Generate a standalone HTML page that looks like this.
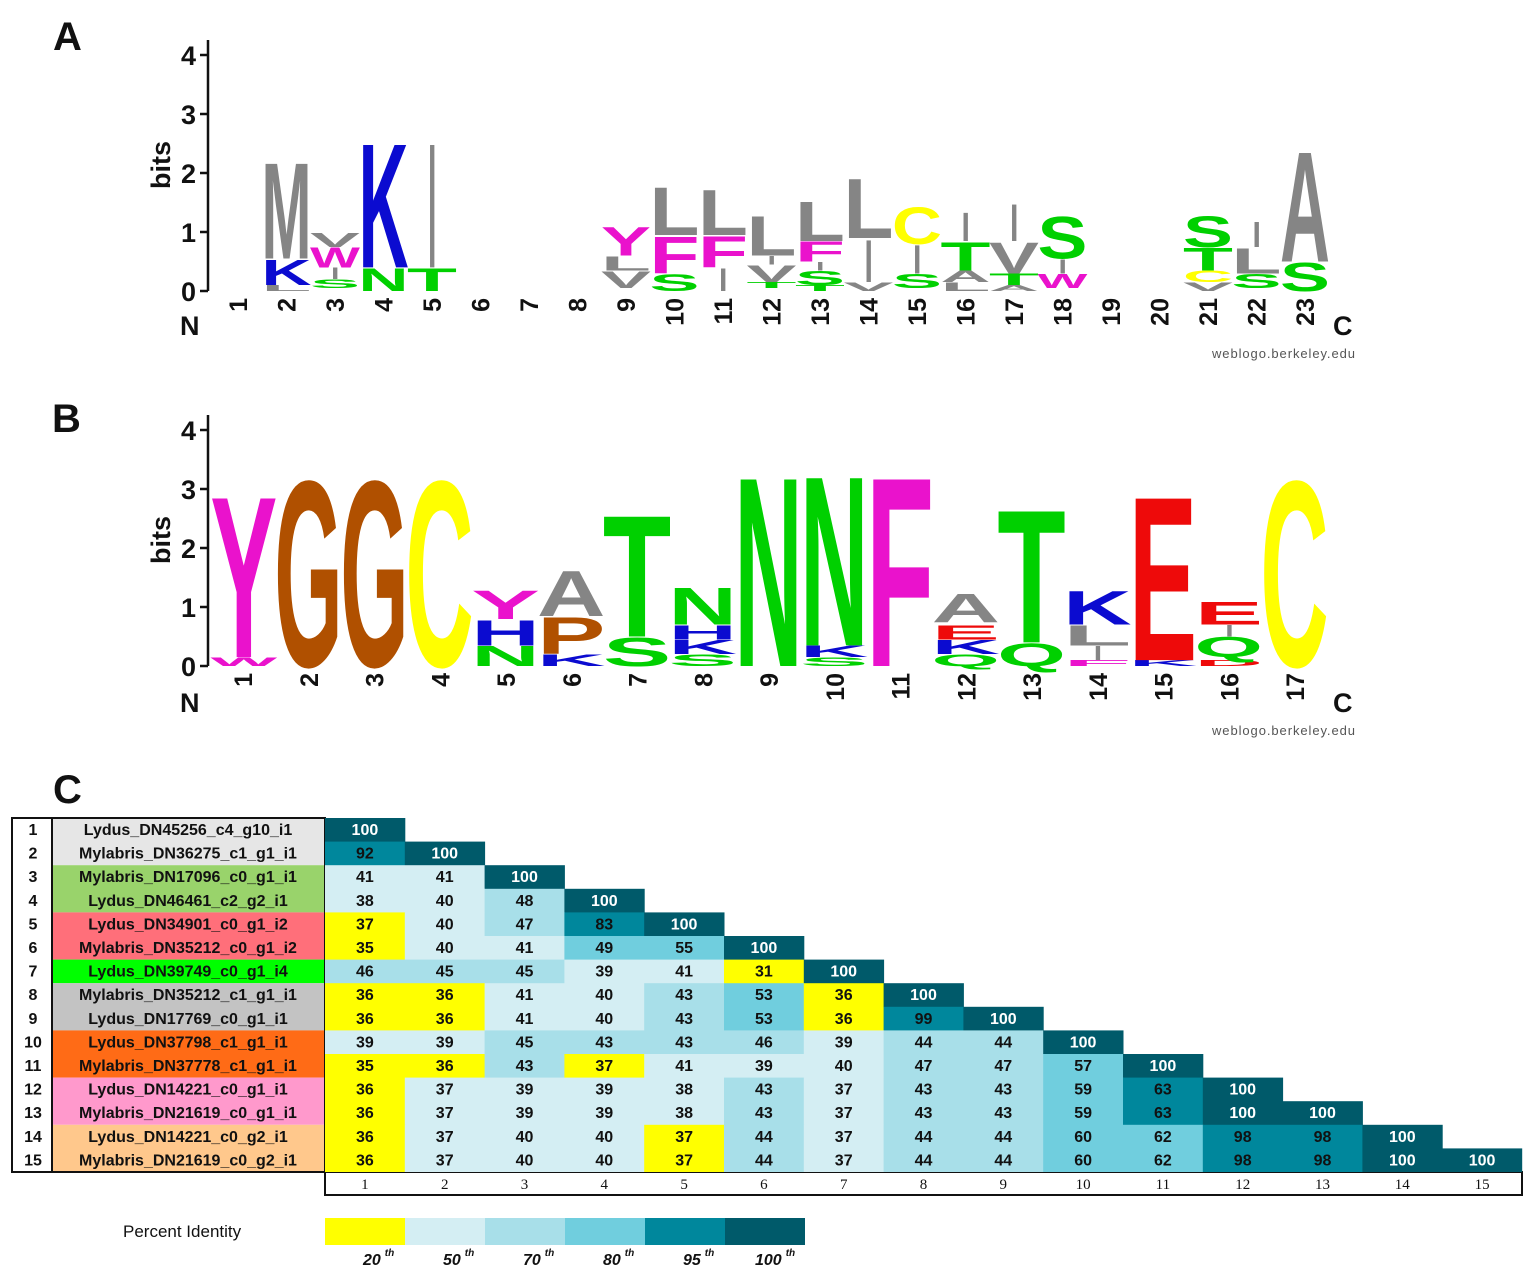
<!DOCTYPE html>
<html><head><meta charset="utf-8"><style>
body{margin:0;background:#fff}
svg{display:block}
.l{font-family:"Liberation Sans",sans-serif;font-weight:bold;font-size:100px}
.g{fill:#858585}.b{fill:#0b0bd0}.gr{fill:#00d000}.m{fill:#ea12cc}.y{fill:#ffff00}.br{fill:#b05000}.r{fill:#ee0a0a}
.ax{font-family:"Liberation Sans",sans-serif;font-weight:bold;font-size:27px;fill:#111}
.tk{font-family:"Liberation Sans",sans-serif;font-weight:bold;font-size:25px;fill:#111}
.wb{font-family:"Liberation Sans",sans-serif;font-size:13px;fill:#555}
.pn{font-family:"Liberation Sans",sans-serif;font-weight:bold;font-size:40px;fill:#111}
.cY{fill:#ffff00}.cL{fill:#d4eef3}.cM{fill:#a8dfe9}.cB{fill:#70cede}.cT{fill:#00879c}.cD{fill:#005a6a}
.ct{font-family:"Liberation Sans Narrow","Liberation Sans",sans-serif;font-weight:bold;font-size:16px;fill:#111;text-anchor:middle}
.cw{fill:#fff}
.nm{font-family:"Liberation Sans Narrow","Liberation Sans",sans-serif;font-weight:bold;font-size:16px;fill:#111;text-anchor:middle}
.xn{font-family:"Liberation Serif",serif;font-size:15px;fill:#111;text-anchor:middle}
.lg{font-family:"Liberation Sans Narrow","Liberation Sans",sans-serif;font-weight:bold;font-style:italic;font-size:16px;fill:#111}
</style></head><body>
<svg width="1534" height="1277" viewBox="0 0 1534 1277" xmlns="http://www.w3.org/2000/svg">
<!-- Panel A -->
<text class="pn" x="53" y="50">A</text>
<g stroke="#111" stroke-width="2.5" fill="none">
<path d="M208 40V291M200 291H208M200 232H208M200 173H208M200 114H208M200 55H208"/>
</g>
<g class="ax" text-anchor="end"><text x="196" y="301">0</text><text x="196" y="242">1</text><text x="196" y="183">2</text><text x="196" y="124">3</text><text x="196" y="65">4</text></g>
<text class="ax" transform="translate(170,165) rotate(-90)" text-anchor="middle">bits</text>
<g class="tk" text-anchor="end">
<text transform="translate(247,298) rotate(-90)">1</text>
<text transform="translate(295.5,298) rotate(-90)">2</text>
<text transform="translate(344,298) rotate(-90)">3</text>
<text transform="translate(392.5,298) rotate(-90)">4</text>
<text transform="translate(441,298) rotate(-90)">5</text>
<text transform="translate(489.5,298) rotate(-90)">6</text>
<text transform="translate(538,298) rotate(-90)">7</text>
<text transform="translate(586.5,298) rotate(-90)">8</text>
<text transform="translate(635,298) rotate(-90)">9</text>
<text transform="translate(683.5,298) rotate(-90)">10</text>
<text transform="translate(732,298) rotate(-90)">11</text>
<text transform="translate(780.5,298) rotate(-90)">12</text>
<text transform="translate(829,298) rotate(-90)">13</text>
<text transform="translate(877.5,298) rotate(-90)">14</text>
<text transform="translate(926,298) rotate(-90)">15</text>
<text transform="translate(974.5,298) rotate(-90)">16</text>
<text transform="translate(1023,298) rotate(-90)">17</text>
<text transform="translate(1071.5,298) rotate(-90)">18</text>
<text transform="translate(1120,298) rotate(-90)">19</text>
<text transform="translate(1168.5,298) rotate(-90)">20</text>
<text transform="translate(1217,298) rotate(-90)">21</text>
<text transform="translate(1265.5,298) rotate(-90)">22</text>
<text transform="translate(1314,298) rotate(-90)">23</text>
</g>
<text class="ax" x="180" y="335">N</text><text class="ax" x="1333" y="335">C</text>
<text class="wb" x="1212" y="358" textLength="143">weblogo.berkeley.edu</text>
<g class="l">
<text class="g" x="-3" textLength="76" lengthAdjust="spacingAndGlyphs" transform="translate(263.5,291) scale(.657,.081)">L</text>
<text class="b" x="-3" textLength="76" lengthAdjust="spacingAndGlyphs" transform="translate(263.5,285.1) scale(.657,.364)">K</text>
<text class="g" x="-3" textLength="76" lengthAdjust="spacingAndGlyphs" transform="translate(263.5,258.55) scale(.657,1.376)">M</text>
<text class="gr" x="-3" textLength="76" lengthAdjust="spacingAndGlyphs" transform="translate(312,288.05) scale(.657,.121)">S</text>
<text class="g" textLength="28" lengthAdjust="spacingAndGlyphs" transform="translate(331,279.2) scale(.3,.162)">I</text>
<text class="m" x="-3" textLength="76" lengthAdjust="spacingAndGlyphs" transform="translate(312,267.4) scale(.657,.283)">W</text>
<text class="g" x="-3" textLength="76" lengthAdjust="spacingAndGlyphs" transform="translate(312,246.75) scale(.657,.202)">V</text>
<text class="gr" x="-3" textLength="76" lengthAdjust="spacingAndGlyphs" transform="translate(360.5,291) scale(.657,.324)">N</text>
<text class="b" x="-3" textLength="76" lengthAdjust="spacingAndGlyphs" transform="translate(360.5,267.4) scale(.657,1.78)">K</text>
<text class="gr" x="-3" textLength="76" lengthAdjust="spacingAndGlyphs" transform="translate(409,291) scale(.657,.324)">T</text>
<text class="g" textLength="28" lengthAdjust="spacingAndGlyphs" transform="translate(428,267.4) scale(.3,1.78)">I</text>
<text class="g" x="-3" textLength="76" lengthAdjust="spacingAndGlyphs" transform="translate(603,288.05) scale(.657,.243)">V</text>
<text class="g" x="-3" textLength="76" lengthAdjust="spacingAndGlyphs" transform="translate(603,270.35) scale(.657,.202)">L</text>
<text class="m" x="-3" textLength="76" lengthAdjust="spacingAndGlyphs" transform="translate(603,255.6) scale(.657,.405)">Y</text>
<text class="gr" x="-3" textLength="76" lengthAdjust="spacingAndGlyphs" transform="translate(651.5,291) scale(.657,.243)">S</text>
<text class="m" x="-3" textLength="76" lengthAdjust="spacingAndGlyphs" transform="translate(651.5,273.3) scale(.657,.526)">F</text>
<text class="g" x="-3" textLength="76" lengthAdjust="spacingAndGlyphs" transform="translate(651.5,234.95) scale(.657,.688)">L</text>
<text class="g" textLength="28" lengthAdjust="spacingAndGlyphs" transform="translate(719,291) scale(.3,.324)">I</text>
<text class="m" x="-3" textLength="76" lengthAdjust="spacingAndGlyphs" transform="translate(700,267.4) scale(.657,.445)">F</text>
<text class="g" x="-3" textLength="76" lengthAdjust="spacingAndGlyphs" transform="translate(700,234.95) scale(.657,.647)">L</text>
<text class="gr" x="-3" textLength="76" lengthAdjust="spacingAndGlyphs" transform="translate(748.5,288.05) scale(.657,.081)">T</text>
<text class="g" x="-3" textLength="76" lengthAdjust="spacingAndGlyphs" transform="translate(748.5,282.15) scale(.657,.243)">V</text>
<text class="g" textLength="28" lengthAdjust="spacingAndGlyphs" transform="translate(767.5,264.45) scale(.3,.121)">I</text>
<text class="g" x="-3" textLength="76" lengthAdjust="spacingAndGlyphs" transform="translate(748.5,255.6) scale(.657,.567)">L</text>
<text class="gr" x="-3" textLength="76" lengthAdjust="spacingAndGlyphs" transform="translate(797,291) scale(.657,.081)">T</text>
<text class="gr" x="-3" textLength="76" lengthAdjust="spacingAndGlyphs" transform="translate(797,285.1) scale(.657,.202)">S</text>
<text class="g" textLength="28" lengthAdjust="spacingAndGlyphs" transform="translate(816,270.35) scale(.3,.121)">I</text>
<text class="m" x="-3" textLength="76" lengthAdjust="spacingAndGlyphs" transform="translate(797,261.5) scale(.657,.283)">F</text>
<text class="g" x="-3" textLength="76" lengthAdjust="spacingAndGlyphs" transform="translate(797,240.85) scale(.657,.567)">L</text>
<text class="g" x="-3" textLength="76" lengthAdjust="spacingAndGlyphs" transform="translate(845.5,291) scale(.657,.121)">V</text>
<text class="g" textLength="28" lengthAdjust="spacingAndGlyphs" transform="translate(864.5,282.15) scale(.3,.607)">I</text>
<text class="g" x="-3" textLength="76" lengthAdjust="spacingAndGlyphs" transform="translate(845.5,237.9) scale(.657,.85)">L</text>
<text class="gr" x="-3" textLength="76" lengthAdjust="spacingAndGlyphs" transform="translate(894,288.05) scale(.657,.202)">S</text>
<text class="g" textLength="28" lengthAdjust="spacingAndGlyphs" transform="translate(913,273.3) scale(.3,.405)">I</text>
<text class="y" x="-3" textLength="76" lengthAdjust="spacingAndGlyphs" transform="translate(894,243.8) scale(.657,.526)">C</text>
<text class="g" x="-3" textLength="76" lengthAdjust="spacingAndGlyphs" transform="translate(942.5,291) scale(.657,.121)">L</text>
<text class="g" x="-3" textLength="76" lengthAdjust="spacingAndGlyphs" transform="translate(942.5,282.15) scale(.657,.162)">A</text>
<text class="gr" x="-3" textLength="76" lengthAdjust="spacingAndGlyphs" transform="translate(942.5,270.35) scale(.657,.405)">T</text>
<text class="g" textLength="28" lengthAdjust="spacingAndGlyphs" transform="translate(961.5,240.85) scale(.3,.405)">I</text>
<text class="g" x="-3" textLength="76" lengthAdjust="spacingAndGlyphs" transform="translate(991,291) scale(.657,.081)">A</text>
<text class="gr" x="-3" textLength="76" lengthAdjust="spacingAndGlyphs" transform="translate(991,285.1) scale(.657,.162)">T</text>
<text class="g" x="-3" textLength="76" lengthAdjust="spacingAndGlyphs" transform="translate(991,273.3) scale(.657,.445)">V</text>
<text class="g" textLength="28" lengthAdjust="spacingAndGlyphs" transform="translate(1010,240.85) scale(.3,.526)">I</text>
<text class="m" x="-3" textLength="76" lengthAdjust="spacingAndGlyphs" transform="translate(1039.5,288.05) scale(.657,.202)">W</text>
<text class="g" textLength="28" lengthAdjust="spacingAndGlyphs" transform="translate(1058.5,273.3) scale(.3,.202)">I</text>
<text class="gr" x="-3" textLength="76" lengthAdjust="spacingAndGlyphs" transform="translate(1039.5,258.55) scale(.657,.607)">S</text>
<text class="g" x="-3" textLength="76" lengthAdjust="spacingAndGlyphs" transform="translate(1185,291) scale(.657,.121)">V</text>
<text class="y" x="-3" textLength="76" lengthAdjust="spacingAndGlyphs" transform="translate(1185,282.15) scale(.657,.162)">C</text>
<text class="gr" x="-3" textLength="76" lengthAdjust="spacingAndGlyphs" transform="translate(1185,270.35) scale(.657,.324)">T</text>
<text class="gr" x="-3" textLength="76" lengthAdjust="spacingAndGlyphs" transform="translate(1185,246.75) scale(.657,.445)">S</text>
<text class="gr" x="-3" textLength="76" lengthAdjust="spacingAndGlyphs" transform="translate(1233.5,288.05) scale(.657,.202)">S</text>
<text class="g" x="-3" textLength="76" lengthAdjust="spacingAndGlyphs" transform="translate(1233.5,273.3) scale(.657,.364)">L</text>
<text class="g" textLength="28" lengthAdjust="spacingAndGlyphs" transform="translate(1252.5,246.75) scale(.3,.364)">I</text>
<text class="gr" x="-3" textLength="76" lengthAdjust="spacingAndGlyphs" transform="translate(1282,291) scale(.657,.405)">S</text>
<text class="g" x="-3" textLength="76" lengthAdjust="spacingAndGlyphs" transform="translate(1282,261.5) scale(.657,1.578)">A</text>
</g>

<!-- Panel B -->
<text class="pn" x="52" y="432">B</text>
<g stroke="#111" stroke-width="2.5" fill="none">
<path d="M208 415V666M200 666H208M200 607H208M200 548H208M200 489H208M200 430H208"/>
</g>
<g class="ax" text-anchor="end"><text x="196" y="676">0</text><text x="196" y="617">1</text><text x="196" y="558">2</text><text x="196" y="499">3</text><text x="196" y="440">4</text></g>
<text class="ax" transform="translate(170,540) rotate(-90)" text-anchor="middle">bits</text>
<g class="tk" text-anchor="end">
<text transform="translate(252,673) rotate(-90)">1</text>
<text transform="translate(317.75,673) rotate(-90)">2</text>
<text transform="translate(383.5,673) rotate(-90)">3</text>
<text transform="translate(449.25,673) rotate(-90)">4</text>
<text transform="translate(515,673) rotate(-90)">5</text>
<text transform="translate(580.75,673) rotate(-90)">6</text>
<text transform="translate(646.5,673) rotate(-90)">7</text>
<text transform="translate(712.25,673) rotate(-90)">8</text>
<text transform="translate(778,673) rotate(-90)">9</text>
<text transform="translate(843.75,673) rotate(-90)">10</text>
<text transform="translate(909.5,673) rotate(-90)">11</text>
<text transform="translate(975.25,673) rotate(-90)">12</text>
<text transform="translate(1041,673) rotate(-90)">13</text>
<text transform="translate(1106.75,673) rotate(-90)">14</text>
<text transform="translate(1172.5,673) rotate(-90)">15</text>
<text transform="translate(1238.25,673) rotate(-90)">16</text>
<text transform="translate(1304,673) rotate(-90)">17</text>
</g>
<text class="ax" x="180" y="712">N</text><text class="ax" x="1333" y="712">C</text>
<text class="wb" x="1212" y="735" textLength="143">weblogo.berkeley.edu</text>
<g class="l">
<text class="m" x="-3" textLength="76" lengthAdjust="spacingAndGlyphs" transform="translate(213,666) scale(.88,.121)">W</text>
<text class="m" x="-3" textLength="76" lengthAdjust="spacingAndGlyphs" transform="translate(213,657.15) scale(.88,2.306)">Y</text>
<text class="br" x="-3" textLength="76" lengthAdjust="spacingAndGlyphs" transform="translate(277,666) scale(.9,2.66)">G</text>
<text class="br" x="-3" textLength="76" lengthAdjust="spacingAndGlyphs" transform="translate(343,666) scale(.9,2.66)">G</text>
<text class="y" x="-3" textLength="76" lengthAdjust="spacingAndGlyphs" transform="translate(408,666) scale(.9,2.66)">C</text>
<text class="gr" x="-3" textLength="76" lengthAdjust="spacingAndGlyphs" transform="translate(474,666) scale(.9,.283)">N</text>
<text class="b" x="-3" textLength="76" lengthAdjust="spacingAndGlyphs" transform="translate(474,645.35) scale(.9,.364)">H</text>
<text class="m" x="-3" textLength="76" lengthAdjust="spacingAndGlyphs" transform="translate(474,618.8) scale(.9,.405)">Y</text>
<text class="b" x="-3" textLength="76" lengthAdjust="spacingAndGlyphs" transform="translate(539.75,666) scale(.9,.162)">K</text>
<text class="br" x="-3" textLength="76" lengthAdjust="spacingAndGlyphs" transform="translate(539.75,654.2) scale(.9,.526)">P</text>
<text class="g" x="-3" textLength="76" lengthAdjust="spacingAndGlyphs" transform="translate(539.75,615.85) scale(.9,.647)">A</text>
<text class="gr" x="-3" textLength="76" lengthAdjust="spacingAndGlyphs" transform="translate(605.5,666) scale(.9,.405)">S</text>
<text class="gr" x="-3" textLength="76" lengthAdjust="spacingAndGlyphs" transform="translate(605.5,636.5) scale(.9,1.74)">T</text>
<text class="gr" x="-3" textLength="76" lengthAdjust="spacingAndGlyphs" transform="translate(671.25,666) scale(.9,.162)">S</text>
<text class="b" x="-3" textLength="76" lengthAdjust="spacingAndGlyphs" transform="translate(671.25,654.2) scale(.9,.202)">K</text>
<text class="b" x="-3" textLength="76" lengthAdjust="spacingAndGlyphs" transform="translate(671.25,639.45) scale(.9,.202)">H</text>
<text class="gr" x="-3" textLength="76" lengthAdjust="spacingAndGlyphs" transform="translate(671.25,624.7) scale(.9,.526)">N</text>
<text class="gr" x="-3" textLength="76" lengthAdjust="spacingAndGlyphs" transform="translate(737,666) scale(.9,2.711)">N</text>
<text class="gr" x="-3" textLength="76" lengthAdjust="spacingAndGlyphs" transform="translate(802.75,666) scale(.9,.121)">S</text>
<text class="b" x="-3" textLength="76" lengthAdjust="spacingAndGlyphs" transform="translate(802.75,657.15) scale(.9,.162)">K</text>
<text class="gr" x="-3" textLength="76" lengthAdjust="spacingAndGlyphs" transform="translate(802.75,645.35) scale(.9,2.428)">N</text>
<text class="m" x="-3" textLength="76" lengthAdjust="spacingAndGlyphs" transform="translate(868.5,666) scale(.9,2.711)">F</text>
<text class="gr" x="-3" textLength="76" lengthAdjust="spacingAndGlyphs" transform="translate(934.25,666) scale(.9,.162)">Q</text>
<text class="b" x="-3" textLength="76" lengthAdjust="spacingAndGlyphs" transform="translate(934.25,654.2) scale(.9,.202)">K</text>
<text class="r" x="-3" textLength="76" lengthAdjust="spacingAndGlyphs" transform="translate(934.25,639.45) scale(.9,.202)">E</text>
<text class="g" x="-3" textLength="76" lengthAdjust="spacingAndGlyphs" transform="translate(934.25,621.75) scale(.9,.405)">A</text>
<text class="gr" x="-3" textLength="76" lengthAdjust="spacingAndGlyphs" transform="translate(1000,666) scale(.9,.324)">Q</text>
<text class="gr" x="-3" textLength="76" lengthAdjust="spacingAndGlyphs" transform="translate(1000,642.4) scale(.9,1.902)">T</text>
<text class="m" x="-3" textLength="76" lengthAdjust="spacingAndGlyphs" transform="translate(1065.75,666) scale(.9,.081)">F</text>
<text class="g" textLength="28" lengthAdjust="spacingAndGlyphs" transform="translate(1093.75,660.1) scale(.3,.202)">I</text>
<text class="g" x="-3" textLength="76" lengthAdjust="spacingAndGlyphs" transform="translate(1065.75,645.35) scale(.9,.283)">L</text>
<text class="b" x="-3" textLength="76" lengthAdjust="spacingAndGlyphs" transform="translate(1065.75,624.7) scale(.9,.486)">K</text>
<text class="b" x="-3" textLength="76" lengthAdjust="spacingAndGlyphs" transform="translate(1131.5,666) scale(.9,.081)">K</text>
<text class="r" x="-3" textLength="76" lengthAdjust="spacingAndGlyphs" transform="translate(1131.5,660.1) scale(.9,2.347)">E</text>
<text class="r" x="-3" textLength="76" lengthAdjust="spacingAndGlyphs" transform="translate(1197.25,666) scale(.9,.081)">D</text>
<text class="gr" x="-3" textLength="76" lengthAdjust="spacingAndGlyphs" transform="translate(1197.25,657.15) scale(.9,.283)">Q</text>
<text class="g" textLength="28" lengthAdjust="spacingAndGlyphs" transform="translate(1225.25,636.5) scale(.3,.162)">I</text>
<text class="r" x="-3" textLength="76" lengthAdjust="spacingAndGlyphs" transform="translate(1197.25,624.7) scale(.9,.324)">E</text>
<text class="y" x="-3" textLength="76" lengthAdjust="spacingAndGlyphs" transform="translate(1263,666) scale(.9,2.66)">C</text>
</g>

<!-- Panel C -->
<text class="pn" x="53" y="803">C</text>
<rect x="52" y="818" width="273" height="47.2" fill="#e6e6e6"/>
<rect x="52" y="865.2" width="273" height="47.2" fill="#99d36b"/>
<rect x="52" y="912.4" width="273" height="47.2" fill="#ff6f7a"/>
<rect x="52" y="959.6" width="273" height="23.6" fill="#00ff00"/>
<rect x="52" y="983.2" width="273" height="47.2" fill="#c3c3c3"/>
<rect x="52" y="1030.4" width="273" height="47.2" fill="#ff6b16"/>
<rect x="52" y="1077.6" width="273" height="47.2" fill="#ff99cc"/>
<rect x="52" y="1124.8" width="273" height="47.2" fill="#ffc88c"/>
<g stroke="#111" stroke-width="2" fill="none"><rect x="12" y="818" width="313" height="354"/><path d="M52 818V1172"/><rect x="325" y="1172" width="1197" height="23"/></g>
<g class="nm">
<text x="33" y="835">1</text><text x="188" y="835">Lydus_DN45256_c4_g10_i1</text>
<text x="33" y="858.6">2</text><text x="188" y="858.6">Mylabris_DN36275_c1_g1_i1</text>
<text x="33" y="882.2">3</text><text x="188" y="882.2">Mylabris_DN17096_c0_g1_i1</text>
<text x="33" y="905.8">4</text><text x="188" y="905.8">Lydus_DN46461_c2_g2_i1</text>
<text x="33" y="929.4">5</text><text x="188" y="929.4">Lydus_DN34901_c0_g1_i2</text>
<text x="33" y="953">6</text><text x="188" y="953">Mylabris_DN35212_c0_g1_i2</text>
<text x="33" y="976.6">7</text><text x="188" y="976.6">Lydus_DN39749_c0_g1_i4</text>
<text x="33" y="1000.2">8</text><text x="188" y="1000.2">Mylabris_DN35212_c1_g1_i1</text>
<text x="33" y="1023.8">9</text><text x="188" y="1023.8">Lydus_DN17769_c0_g1_i1</text>
<text x="33" y="1047.4">10</text><text x="188" y="1047.4">Lydus_DN37798_c1_g1_i1</text>
<text x="33" y="1071">11</text><text x="188" y="1071">Mylabris_DN37778_c1_g1_i1</text>
<text x="33" y="1094.6">12</text><text x="188" y="1094.6">Lydus_DN14221_c0_g1_i1</text>
<text x="33" y="1118.2">13</text><text x="188" y="1118.2">Mylabris_DN21619_c0_g1_i1</text>
<text x="33" y="1141.8">14</text><text x="188" y="1141.8">Lydus_DN14221_c0_g2_i1</text>
<text x="33" y="1165.4">15</text><text x="188" y="1165.4">Mylabris_DN21619_c0_g2_i1</text>
</g>
<g>
<rect class="cD" x="325" y="818" width="80.3" height="24"/>
<rect class="cT" x="325" y="841.6" width="80.3" height="24"/><rect class="cD" x="404.8" y="841.6" width="80.3" height="24"/>
<rect class="cL" x="325" y="865.2" width="160" height="24"/><rect class="cD" x="484.6" y="865.2" width="80.3" height="24"/>
<rect class="cL" x="325" y="888.8" width="160" height="24"/><rect class="cM" x="484.6" y="888.8" width="80.3" height="24"/><rect class="cD" x="564.4" y="888.8" width="80.3" height="24"/>
<rect class="cY" x="325" y="912.4" width="80.3" height="24"/><rect class="cL" x="404.8" y="912.4" width="80.3" height="24"/><rect class="cM" x="484.6" y="912.4" width="80.3" height="24"/><rect class="cT" x="564.4" y="912.4" width="80.3" height="24"/><rect class="cD" x="644.2" y="912.4" width="80.3" height="24"/>
<rect class="cY" x="325" y="936" width="80.3" height="24"/><rect class="cL" x="404.8" y="936" width="160" height="24"/><rect class="cB" x="564.4" y="936" width="160" height="24"/><rect class="cD" x="724" y="936" width="80.3" height="24"/>
<rect class="cM" x="325" y="959.6" width="239.7" height="24"/><rect class="cL" x="564.4" y="959.6" width="160" height="24"/><rect class="cY" x="724" y="959.6" width="80.3" height="24"/><rect class="cD" x="803.8" y="959.6" width="80.3" height="24"/>
<rect class="cY" x="325" y="983.2" width="160" height="47.6"/><rect class="cL" x="484.6" y="983.2" width="160" height="47.6"/><rect class="cM" x="644.2" y="983.2" width="80.3" height="47.6"/><rect class="cB" x="724" y="983.2" width="80.3" height="47.6"/><rect class="cY" x="803.8" y="983.2" width="80.3" height="47.6"/><rect class="cD" x="883.6" y="983.2" width="80.3" height="24"/>
<rect class="cT" x="883.6" y="1006.8" width="80.3" height="24"/><rect class="cD" x="963.4" y="1006.8" width="80.3" height="24"/>
<rect class="cL" x="325" y="1030.4" width="160" height="24"/><rect class="cM" x="484.6" y="1030.4" width="319.5" height="24"/><rect class="cL" x="803.8" y="1030.4" width="80.3" height="24"/><rect class="cM" x="883.6" y="1030.4" width="160" height="24"/><rect class="cD" x="1043.2" y="1030.4" width="80.3" height="24"/>
<rect class="cY" x="325" y="1054" width="160" height="24"/><rect class="cM" x="484.6" y="1054" width="80.3" height="24"/><rect class="cY" x="564.4" y="1054" width="80.3" height="24"/><rect class="cL" x="644.2" y="1054" width="239.7" height="24"/><rect class="cM" x="883.6" y="1054" width="160" height="24"/><rect class="cB" x="1043.2" y="1054" width="80.3" height="24"/><rect class="cD" x="1123" y="1054" width="80.3" height="24"/>
<rect class="cY" x="325" y="1077.6" width="80.3" height="47.6"/><rect class="cL" x="404.8" y="1077.6" width="319.5" height="47.6"/><rect class="cM" x="724" y="1077.6" width="80.3" height="47.6"/><rect class="cL" x="803.8" y="1077.6" width="80.3" height="47.6"/><rect class="cM" x="883.6" y="1077.6" width="160" height="47.6"/><rect class="cB" x="1043.2" y="1077.6" width="80.3" height="47.6"/><rect class="cT" x="1123" y="1077.6" width="80.3" height="47.6"/><rect class="cD" x="1202.8" y="1077.6" width="80.3" height="47.6"/><rect class="cD" x="1282.6" y="1101.2" width="80.3" height="24"/>
<rect class="cY" x="325" y="1124.8" width="80.3" height="47.2"/><rect class="cL" x="404.8" y="1124.8" width="239.7" height="47.2"/><rect class="cY" x="644.2" y="1124.8" width="80.3" height="47.2"/><rect class="cM" x="724" y="1124.8" width="80.3" height="47.2"/><rect class="cL" x="803.8" y="1124.8" width="80.3" height="47.2"/><rect class="cM" x="883.6" y="1124.8" width="160" height="47.2"/><rect class="cB" x="1043.2" y="1124.8" width="160" height="47.2"/><rect class="cT" x="1202.8" y="1124.8" width="160" height="47.2"/><rect class="cD" x="1362.4" y="1124.8" width="80.3" height="47.2"/><rect class="cD" x="1442.2" y="1148.4" width="80" height="23.6"/>
</g>
<g class="ct">
<text class="cw" x="364.9" y="835">100</text>
<text x="364.9" y="858.6">92</text><text class="cw" x="444.7" y="858.6">100</text>
<text x="364.9" y="882.2">41</text><text x="444.7" y="882.2">41</text><text class="cw" x="524.5" y="882.2">100</text>
<text x="364.9" y="905.8">38</text><text x="444.7" y="905.8">40</text><text x="524.5" y="905.8">48</text><text class="cw" x="604.3" y="905.8">100</text>
<text x="364.9" y="929.4">37</text><text x="444.7" y="929.4">40</text><text x="524.5" y="929.4">47</text><text x="604.3" y="929.4">83</text><text class="cw" x="684.1" y="929.4">100</text>
<text x="364.9" y="953">35</text><text x="444.7" y="953">40</text><text x="524.5" y="953">41</text><text x="604.3" y="953">49</text><text x="684.1" y="953">55</text><text class="cw" x="763.9" y="953">100</text>
<text x="364.9" y="976.6">46</text><text x="444.7" y="976.6">45</text><text x="524.5" y="976.6">45</text><text x="604.3" y="976.6">39</text><text x="684.1" y="976.6">41</text><text x="763.9" y="976.6">31</text><text class="cw" x="843.7" y="976.6">100</text>
<text x="364.9" y="1000.2">36</text><text x="444.7" y="1000.2">36</text><text x="524.5" y="1000.2">41</text><text x="604.3" y="1000.2">40</text><text x="684.1" y="1000.2">43</text><text x="763.9" y="1000.2">53</text><text x="843.7" y="1000.2">36</text><text class="cw" x="923.5" y="1000.2">100</text>
<text x="364.9" y="1023.8">36</text><text x="444.7" y="1023.8">36</text><text x="524.5" y="1023.8">41</text><text x="604.3" y="1023.8">40</text><text x="684.1" y="1023.8">43</text><text x="763.9" y="1023.8">53</text><text x="843.7" y="1023.8">36</text><text x="923.5" y="1023.8">99</text><text class="cw" x="1003.3" y="1023.8">100</text>
<text x="364.9" y="1047.4">39</text><text x="444.7" y="1047.4">39</text><text x="524.5" y="1047.4">45</text><text x="604.3" y="1047.4">43</text><text x="684.1" y="1047.4">43</text><text x="763.9" y="1047.4">46</text><text x="843.7" y="1047.4">39</text><text x="923.5" y="1047.4">44</text><text x="1003.3" y="1047.4">44</text><text class="cw" x="1083.1" y="1047.4">100</text>
<text x="364.9" y="1071">35</text><text x="444.7" y="1071">36</text><text x="524.5" y="1071">43</text><text x="604.3" y="1071">37</text><text x="684.1" y="1071">41</text><text x="763.9" y="1071">39</text><text x="843.7" y="1071">40</text><text x="923.5" y="1071">47</text><text x="1003.3" y="1071">47</text><text x="1083.1" y="1071">57</text><text class="cw" x="1162.9" y="1071">100</text>
<text x="364.9" y="1094.6">36</text><text x="444.7" y="1094.6">37</text><text x="524.5" y="1094.6">39</text><text x="604.3" y="1094.6">39</text><text x="684.1" y="1094.6">38</text><text x="763.9" y="1094.6">43</text><text x="843.7" y="1094.6">37</text><text x="923.5" y="1094.6">43</text><text x="1003.3" y="1094.6">43</text><text x="1083.1" y="1094.6">59</text><text x="1162.9" y="1094.6">63</text><text class="cw" x="1242.7" y="1094.6">100</text>
<text x="364.9" y="1118.2">36</text><text x="444.7" y="1118.2">37</text><text x="524.5" y="1118.2">39</text><text x="604.3" y="1118.2">39</text><text x="684.1" y="1118.2">38</text><text x="763.9" y="1118.2">43</text><text x="843.7" y="1118.2">37</text><text x="923.5" y="1118.2">43</text><text x="1003.3" y="1118.2">43</text><text x="1083.1" y="1118.2">59</text><text x="1162.9" y="1118.2">63</text><text class="cw" x="1242.7" y="1118.2">100</text><text class="cw" x="1322.5" y="1118.2">100</text>
<text x="364.9" y="1141.8">36</text><text x="444.7" y="1141.8">37</text><text x="524.5" y="1141.8">40</text><text x="604.3" y="1141.8">40</text><text x="684.1" y="1141.8">37</text><text x="763.9" y="1141.8">44</text><text x="843.7" y="1141.8">37</text><text x="923.5" y="1141.8">44</text><text x="1003.3" y="1141.8">44</text><text x="1083.1" y="1141.8">60</text><text x="1162.9" y="1141.8">62</text><text x="1242.7" y="1141.8">98</text><text x="1322.5" y="1141.8">98</text><text class="cw" x="1402.3" y="1141.8">100</text>
<text x="364.9" y="1165.4">36</text><text x="444.7" y="1165.4">37</text><text x="524.5" y="1165.4">40</text><text x="604.3" y="1165.4">40</text><text x="684.1" y="1165.4">37</text><text x="763.9" y="1165.4">44</text><text x="843.7" y="1165.4">37</text><text x="923.5" y="1165.4">44</text><text x="1003.3" y="1165.4">44</text><text x="1083.1" y="1165.4">60</text><text x="1162.9" y="1165.4">62</text><text x="1242.7" y="1165.4">98</text><text x="1322.5" y="1165.4">98</text><text class="cw" x="1402.3" y="1165.4">100</text><text class="cw" x="1482.1" y="1165.4">100</text>
</g>
<g class="xn">
<text x="364.9" y="1189">1</text><text x="444.7" y="1189">2</text><text x="524.5" y="1189">3</text><text x="604.3" y="1189">4</text><text x="684.1" y="1189">5</text><text x="763.9" y="1189">6</text><text x="843.7" y="1189">7</text><text x="923.5" y="1189">8</text><text x="1003.3" y="1189">9</text><text x="1083.1" y="1189">10</text><text x="1162.9" y="1189">11</text><text x="1242.7" y="1189">12</text><text x="1322.5" y="1189">13</text><text x="1402.3" y="1189">14</text><text x="1482.1" y="1189">15</text>
</g>
<text x="123" y="1237" font-family="Liberation Sans, sans-serif" font-size="17" fill="#111">Percent Identity</text>
<rect class="cY" x="325" y="1218" width="80.3" height="27"/><rect class="cL" x="405" y="1218" width="80.3" height="27"/><rect class="cM" x="485" y="1218" width="80.3" height="27"/><rect class="cB" x="565" y="1218" width="80.3" height="27"/><rect class="cT" x="645" y="1218" width="80.3" height="27"/><rect class="cD" x="725" y="1218" width="80" height="27"/>
<g class="lg">
<text x="363" y="1265">20<tspan font-size="10" dy="-9" dx="4">th</tspan></text>
<text x="443" y="1265">50<tspan font-size="10" dy="-9" dx="4">th</tspan></text>
<text x="523" y="1265">70<tspan font-size="10" dy="-9" dx="4">th</tspan></text>
<text x="603" y="1265">80<tspan font-size="10" dy="-9" dx="4">th</tspan></text>
<text x="683" y="1265">95<tspan font-size="10" dy="-9" dx="4">th</tspan></text>
<text x="755" y="1265">100<tspan font-size="10" dy="-9" dx="4">th</tspan></text>
</g>
</svg>
</body></html>
